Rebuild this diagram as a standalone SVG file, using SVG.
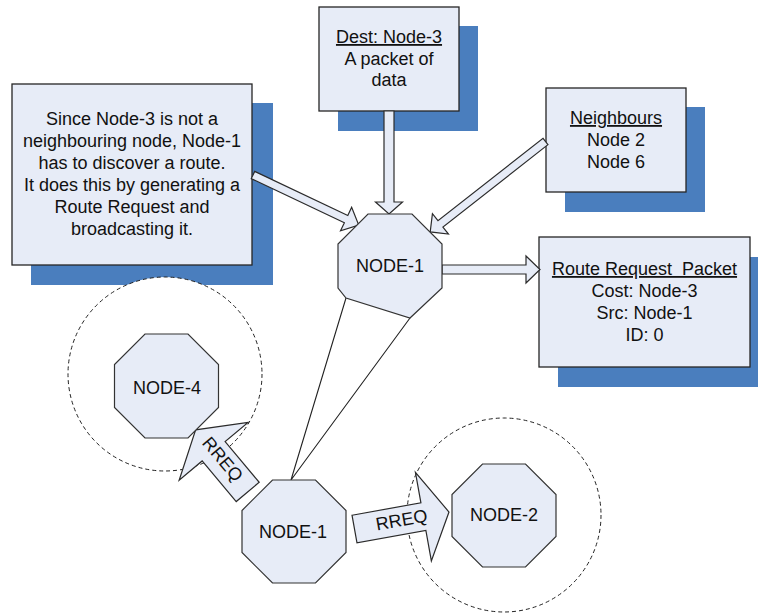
<svg xmlns="http://www.w3.org/2000/svg" width="758" height="614" viewBox="0 0 758 614">
  <style>
    .shadow { fill: #4a7ebe; }
    .box { fill: #e7ecf7; stroke: #262626; stroke-width: 1.3; }
    .oct { fill: #e7ecf7; stroke: #333333; stroke-width: 1.2; }
    .arrow { fill: #e7ecf7; stroke: #2b2b2b; stroke-width: 1.2; stroke-linejoin: miter; }
    .range { fill: #ffffff; stroke: #222222; stroke-width: 1; stroke-dasharray: 4 3; }
    .wedge { fill: none; stroke: #222222; stroke-width: 1.1; }
    text { font-family: "Liberation Sans", Arial, Helvetica, sans-serif; font-size: 18px; fill: #111111; text-anchor: middle; }
    .u { text-decoration: underline; }
    .pre { white-space: pre; }
  </style>

  <!-- explanatory note -->
  <g id="note-route">
    <rect class="shadow" x="31" y="103" width="242" height="182"/>
    <rect class="box" x="12" y="84" width="240" height="181"/>
    <text x="132" y="125">Since Node-3 is not a</text>
    <text x="132" y="147">neighbouring node, Node-1</text>
    <text x="132" y="169">has to discover a route.</text>
    <text x="132" y="191">It does this by generating a</text>
    <text x="132" y="213">Route Request and</text>
    <text x="132" y="235">broadcasting it.</text>
  </g>

  <!-- data packet -->
  <g id="packet-dest">
    <rect class="shadow" x="338" y="26" width="140" height="105"/>
    <rect class="box" x="319" y="7" width="140" height="104"/>
    <text class="u" x="389" y="43">Dest: Node-3</text>
    <text x="389" y="64.5">A packet of</text>
    <text x="389" y="86">data</text>
  </g>

  <!-- neighbour table -->
  <g id="neighbours">
    <rect class="shadow" x="565" y="107" width="140" height="105"/>
    <rect class="box" x="546" y="88" width="140" height="104"/>
    <text class="u" x="616" y="124">Neighbours</text>
    <text x="616" y="146">Node 2</text>
    <text x="616" y="167.5">Node 6</text>
  </g>

  <!-- route request packet -->
  <g id="rreq-packet">
    <rect class="shadow" x="558" y="257" width="212" height="130"/>
    <rect class="box" x="539" y="237" width="211" height="130"/>
    <text class="u pre" x="644.5" y="275">Route Request  Packet</text>
    <text x="644.5" y="297">Cost: Node-3</text>
    <text x="644.5" y="319">Src: Node-1</text>
    <text x="644.5" y="341">ID: 0</text>
  </g>

  <!-- radio ranges -->
  <g id="range-node4">
    <circle class="range" cx="165" cy="374" r="97"/>
  </g>
  <g id="range-node2">
    <circle class="range" cx="504" cy="515" r="97"/>
  </g>

  <g id="connectors">
    <!-- note to NODE-1 -->
    <path class="arrow" transform="translate(253,175) rotate(25.35)" d="M0,-4 H103 V-13 L117,0 L103,13 V4 H0 Z"/>
    <!-- packet to NODE-1 -->
    <path class="arrow" transform="translate(389,111) rotate(90)" d="M0,-5 H91 V-13.5 L103,0 L91,13.5 V5 H0 Z"/>
    <!-- neighbours to NODE-1 -->
    <path class="arrow" transform="translate(545.5,141.5) rotate(141.9)" d="M0,-4 H133.5 V-13 L146.5,0 L133.5,13 V4 H0 Z"/>
    <!-- NODE-1 to route request packet -->
    <path class="arrow" transform="translate(442,269.5)" d="M0,-4.5 H84 V-13.5 L98,0 L84,13.5 V4.5 H0 Z"/>
    <!-- callout wedge from NODE-1 (top) to NODE-1 -->
    <path class="wedge" d="M346,298 L291,480 L410,318"/>
    <!-- RREQ broadcast to NODE-4 -->
    <g transform="translate(247.7,491.9) rotate(-130)">
      <path class="arrow" d="M0,-15 H53 V-45 L81,0 L53,45 V15 H0 Z"/>
    </g>
    <text transform="translate(223,459) rotate(50)" y="6.5">RREQ</text>
    <!-- RREQ broadcast to NODE-2 -->
    <g transform="translate(354.5,529) rotate(-10.2)">
      <path class="arrow" d="M0,-14 H70 V-45 L96,0 L70,45 V14 H0 Z"/>
    </g>
    <text transform="translate(401.5,519.5) rotate(-10.2)" y="6.5">RREQ</text>
  </g>

  <g id="node1-top">
    <polygon class="oct" points="368,214 412,214 442,244 442,288 410,318 346,298 338,288 338,244"/>
    <text x="390" y="272">NODE-1</text>
  </g>

  <g id="node4">
    <polygon class="oct" points="145,334 188,334 218.5,364.5 218.5,407.5 188,438 145,438 114.5,407.5 114.5,364.5"/>
    <text x="167" y="393.5">NODE-4</text>
  </g>

  <g id="node1">
    <polygon class="oct" points="272.5,480 315.5,480 346,510.5 346,552.5 315.5,583 272.5,583 242,552.5 242,510.5"/>
    <text x="293" y="537.5">NODE-1</text>
  </g>

  <g id="node2">
    <polygon class="oct" points="482.5,464 525.5,464 556,494.5 556,536.5 525.5,567 482.5,567 452,536.5 452,494.5"/>
    <text x="504" y="521">NODE-2</text>
  </g>
</svg>
